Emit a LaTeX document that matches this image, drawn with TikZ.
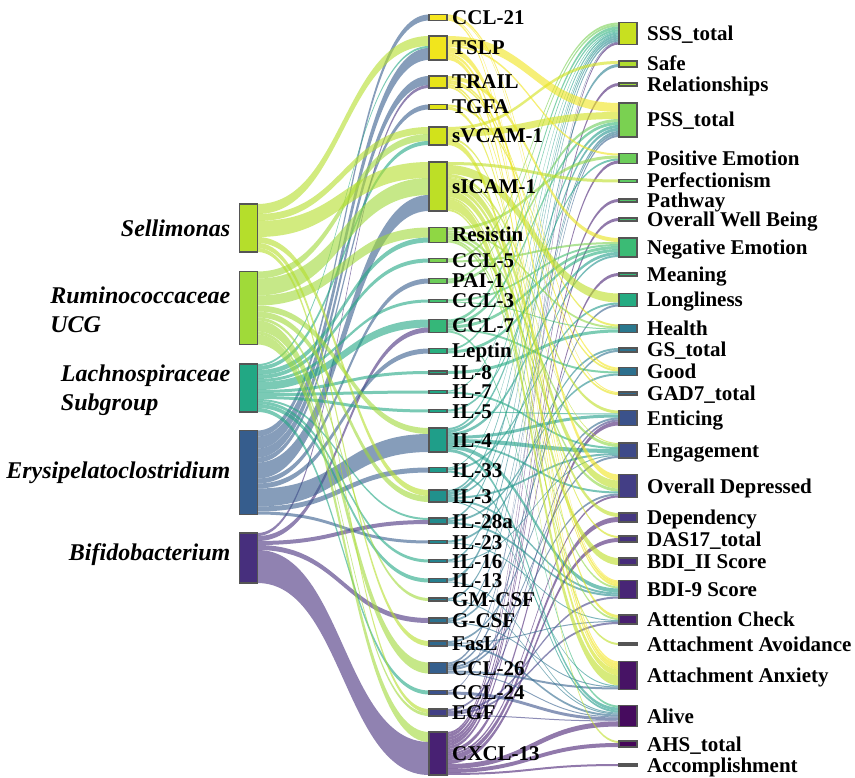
\documentclass[tikz,border=0pt]{standalone}
\usepackage{fontspec}
\setmainfont{Liberation Serif}
\usetikzlibrary{calc,backgrounds}
% left
\definecolor{csel}{HTML}{B5DE2B}
\definecolor{crum}{HTML}{A0DA39}
\definecolor{clach}{HTML}{22A884}
\definecolor{cery}{HTML}{365D8D}
\definecolor{cbif}{HTML}{472F7D}
% middle
\definecolor{cccl21}{HTML}{F6E620}
\definecolor{ctslp}{HTML}{F1E51D}
\definecolor{ctrail}{HTML}{E8E419}
\definecolor{ctgfa}{HTML}{E0E318}
\definecolor{csvcam}{HTML}{D2E21B}
\definecolor{csicam}{HTML}{BDDF26}
\definecolor{cresistin}{HTML}{8FD744}
\definecolor{cccl5}{HTML}{7AD151}
\definecolor{cpai1}{HTML}{6CCD5A}
\definecolor{cccl3}{HTML}{44BF70}
\definecolor{cccl7}{HTML}{35B779}
\definecolor{cleptin}{HTML}{29AF7F}
\definecolor{cil8}{HTML}{25AB82}
\definecolor{cil7}{HTML}{22A785}
\definecolor{cil5}{HTML}{20A386}
\definecolor{cil4}{HTML}{1F9E89}
\definecolor{cil33}{HTML}{1F998A}
\definecolor{cil3}{HTML}{21918C}
\definecolor{cil28a}{HTML}{228B8D}
\definecolor{cil23}{HTML}{24868E}
\definecolor{cil16}{HTML}{25828E}
\definecolor{cil13}{HTML}{277E8E}
\definecolor{cgmcsf}{HTML}{29798E}
\definecolor{cgcsf}{HTML}{2C718E}
\definecolor{cfasl}{HTML}{30698E}
\definecolor{cccl26}{HTML}{355F8D}
\definecolor{cccl24}{HTML}{3B528B}
\definecolor{cegf}{HTML}{424086}
\definecolor{ccxcl13}{HTML}{482173}
% right
\definecolor{csss}{HTML}{C8E020}
\definecolor{csafe}{HTML}{B0DD2F}
\definecolor{crel}{HTML}{9BD93C}
\definecolor{cpss}{HTML}{7AD151}
\definecolor{cposemo}{HTML}{6CCD5A}
\definecolor{cperf}{HTML}{5EC962}
\definecolor{cpathway}{HTML}{52C569}
\definecolor{cowb}{HTML}{44BF70}
\definecolor{cnegemo}{HTML}{3BBB75}
\definecolor{cmeaning}{HTML}{35B779}
\definecolor{clongl}{HTML}{25AB82}
\definecolor{chealth}{HTML}{2A788E}
\definecolor{cgs}{HTML}{2C728E}
\definecolor{cgood}{HTML}{2D708E}
\definecolor{cgad}{HTML}{30698E}
\definecolor{centicing}{HTML}{3B528B}
\definecolor{cengage}{HTML}{3E4A89}
\definecolor{coverdep}{HTML}{433E85}
\definecolor{cdepend}{HTML}{453781}
\definecolor{cdas}{HTML}{46327E}
\definecolor{cbdiii}{HTML}{472C7A}
\definecolor{cbdinine}{HTML}{482576}
\definecolor{cattn}{HTML}{481F70}
\definecolor{cattavoid}{HTML}{481A6C}
\definecolor{cattanx}{HTML}{471365}
\definecolor{calive}{HTML}{460B5E}
\definecolor{cahs}{HTML}{450559}
\definecolor{caccomp}{HTML}{440154}
\definecolor{nodeborder}{HTML}{555555}

\tikzset{
  sknode/.style={rectangle, draw=nodeborder, line width=1.7pt, inner sep=0pt, outer sep=0pt, minimum width=18pt},
  flowfill/.style={fill opacity=0.6},
  leftlabel/.style={font=\bfseries\itshape\fontsize{24}{29}\selectfont, anchor=east, align=left, inner sep=0pt},
  rlabel/.style={font=\bfseries\fontsize{21}{22}\selectfont, anchor=base west, inner sep=0pt},
}

\newcommand\sknd[4]{\node[sknode, fill=c#1, minimum height=#4pt] (#1) at (#2,#3) {};}
\newcommand\skml[2]{\node[rlabel] (#1-l) at ($(#1.east)+(5,7)$) {#2};}
\newcommand\skrl[2]{\node[rlabel] (#1-l) at ($(#1.east)+(10,7)$) {#2};}
\newcommand\skflow[3]{%
  \expandafter\ifx\csname skO#1\endcsname\relax\expandafter\xdef\csname skO#1\endcsname{0}\fi
  \expandafter\ifx\csname skI#2\endcsname\relax\expandafter\xdef\csname skI#2\endcsname{0}\fi
  \edef\skA{\csname skO#1\endcsname}%
  \edef\skB{\csname skI#2\endcsname}%
  \pgfmathsetmacro\skAe{\skA+#3}%
  \pgfmathsetmacro\skBe{\skB+#3}%
  \expandafter\xdef\csname skO#1\endcsname{\skAe}%
  \expandafter\xdef\csname skI#2\endcsname{\skBe}%
  \fill[flowfill, fill=c#1]
    ($(#1.north east)+(0,\skA)$) .. controls +(85,0) and +(-85,0) .. ($(#2.north west)+(0,\skB)$)
    -- ($(#2.north west)+(0,\skBe)$) .. controls +(-85,0) and +(85,0) .. ($(#1.north east)+(0,\skAe)$) -- cycle;%
}

\begin{document}
\begin{tikzpicture}[x=1pt,y=-1pt]
\useasboundingbox (0,0) rectangle (855,778);

% ---- left column
\sknd{sel}{248.5}{228}{48}
\sknd{rum}{248.5}{308}{73}
\sknd{lach}{248.5}{388}{48}
\sknd{ery}{248.5}{472.5}{84}
\sknd{bif}{248.5}{558}{50}
\node[leftlabel] (sel-l) at ($(sel.west)+(-9,0)$) {Sellimonas};
\node[leftlabel] (rum-l) at ($(rum.west)+(-9,2)$) {Ruminococcaceae\\UCG};
\node[leftlabel] (lach-l) at ($(lach.west)+(-9,2)$) {Lachnospiraceae\\ Subgroup};
\node[leftlabel] (ery-l) at ($(ery.west)+(-9,0)$) {Erysipelatoclostridium};
\node[leftlabel] (bif-l) at ($(bif.west)+(-9,-3)$) {Bifidobacterium};

% ---- middle column
\sknd{ccl21}{438}{17.5}{6}
\sknd{tslp}{438}{48}{24}
\sknd{trail}{438}{82}{12}
\sknd{tgfa}{438}{107}{5}
\sknd{svcam}{438}{136}{18}
\sknd{sicam}{438}{186.5}{49}
\sknd{resistin}{438}{235}{15}
\sknd{ccl5}{438}{260.5}{4}
\sknd{pai1}{438}{281}{5}
\sknd{ccl3}{438}{301}{3}
\sknd{ccl7}{438}{326}{13}
\sknd{leptin}{438}{351}{5}
\sknd{il8}{438}{372.5}{3}
\sknd{il7}{438}{392}{3}
\sknd{il5}{438}{411}{3}
\sknd{il4}{438}{440}{24}
\sknd{il33}{438}{470}{5}
\sknd{il3}{438}{496}{12}
\sknd{il28a}{438}{521}{6}
\sknd{il23}{438}{542}{3}
\sknd{il16}{438}{561}{3}
\sknd{il13}{438}{580.5}{4}
\sknd{gmcsf}{438}{599.5}{3}
\sknd{gcsf}{438}{620.5}{5}
\sknd{fasl}{438}{643.5}{5}
\sknd{ccl26}{438}{668}{11}
\sknd{ccl24}{438}{692.5}{4}
\sknd{egf}{438}{712.5}{7}
\sknd{cxcl13}{438}{753.5}{43}
\skml{ccl21}{CCL-21}
\skml{tslp}{TSLP}
\skml{trail}{TRAIL}
\skml{tgfa}{TGFA}
\skml{svcam}{sVCAM-1}
\skml{sicam}{sICAM-1}
\skml{resistin}{Resistin}
\skml{ccl5}{CCL-5}
\skml{pai1}{PAI-1}
\skml{ccl3}{CCL-3}
\skml{ccl7}{CCL-7}
\skml{leptin}{Leptin}
\skml{il8}{IL-8}
\skml{il7}{IL-7}
\skml{il5}{IL-5}
\skml{il4}{IL-4}
\skml{il33}{IL-33}
\skml{il3}{IL-3}
\skml{il28a}{IL-28a}
\skml{il23}{IL-23}
\skml{il16}{IL-16}
\skml{il13}{IL-13}
\skml{gmcsf}{GM-CSF}
\skml{gcsf}{G-CSF}
\skml{fasl}{FasL}
\skml{ccl26}{CCL-26}
\skml{ccl24}{CCL-24}
\skml{egf}{EGF}
\skml{cxcl13}{CXCL-13}

% ---- right column
\sknd{sss}{628}{33.5}{22}
\sknd{safe}{628}{64}{6}
\sknd{rel}{628}{84.5}{3}
\sknd{pss}{628}{120}{34}
\sknd{posemo}{628}{158.5}{10}
\sknd{perf}{628}{181}{3}
\sknd{pathway}{628}{200.5}{3}
\sknd{owb}{628}{219.5}{3}
\sknd{negemo}{628}{247.5}{19}
\sknd{meaning}{628}{274.5}{3}
\sknd{longl}{628}{300}{13}
\sknd{health}{628}{328.5}{8}
\sknd{gs}{628}{350}{4}
\sknd{good}{628}{371.5}{8}
\sknd{gad}{628}{393.5}{3}
\sknd{enticing}{628}{418}{15}
\sknd{engage}{628}{450.5}{15}
\sknd{overdep}{628}{486}{23}
\sknd{depend}{628}{517.5}{9}
\sknd{das}{628}{539}{6}
\sknd{bdiii}{628}{561.5}{7}
\sknd{bdinine}{628}{589.5}{18}
\sknd{attn}{628}{619.5}{9}
\sknd{attavoid}{628}{644}{2}
\sknd{attanx}{628}{675.5}{28}
\sknd{alive}{628}{716}{21}
\sknd{ahs}{628}{744}{6}
\sknd{accomp}{628}{765}{2}
\skrl{sss}{SSS\_total}
\skrl{safe}{Safe}
\skrl{rel}{Relationships}
\skrl{pss}{PSS\_total}
\skrl{posemo}{Positive Emotion}
\skrl{perf}{Perfectionism}
\skrl{pathway}{Pathway}
\skrl{owb}{Overall Well Being}
\skrl{negemo}{Negative Emotion}
\skrl{meaning}{Meaning}
\skrl{longl}{Longliness}
\skrl{health}{Health}
\skrl{gs}{GS\_total}
\skrl{good}{Good}
\skrl{gad}{GAD7\_total}
\skrl{enticing}{Enticing}
\skrl{engage}{Engagement}
\skrl{overdep}{Overall Depressed}
\skrl{depend}{Dependency}
\skrl{das}{DAS17\_total}
\skrl{bdiii}{BDI\_II Score}
\skrl{bdinine}{BDI-9 Score}
\skrl{attn}{Attention Check}
\skrl{attavoid}{Attachment Avoidance}
\skrl{attanx}{Attachment Anxiety}
\skrl{alive}{Alive}
\skrl{ahs}{AHS\_total}
\skrl{accomp}{Accomplishment}

\begin{pgfonlayer}{background}
\fill[white] (0,0) rectangle (855,778);
% ---- left -> middle
\skflow{ery}{ccl21}{6}
\skflow{sel}{tslp}{10}
\skflow{lach}{tslp}{2}
\skflow{ery}{tslp}{12}
\skflow{ery}{trail}{9}
\skflow{bif}{trail}{3}
\skflow{ery}{tgfa}{5}
\skflow{sel}{svcam}{7}
\skflow{rum}{svcam}{7}
\skflow{lach}{svcam}{4}
\skflow{sel}{sicam}{16}
\skflow{rum}{sicam}{17}
\skflow{ery}{sicam}{16}
\skflow{rum}{resistin}{10}
\skflow{lach}{resistin}{5}
\skflow{lach}{ccl5}{4}
\skflow{ery}{pai1}{5}
\skflow{lach}{ccl3}{3}
\skflow{lach}{ccl7}{8}
\skflow{bif}{ccl7}{5}
\skflow{ery}{leptin}{5}
\skflow{lach}{il8}{3}
\skflow{lach}{il7}{3}
\skflow{lach}{il5}{3}
\skflow{rum}{il4}{6}
\skflow{ery}{il4}{18}
\skflow{ery}{il33}{5}
\skflow{sel}{il3}{6}
\skflow{rum}{il3}{6}
\skflow{lach}{il28a}{2}
\skflow{bif}{il28a}{4}
\skflow{ery}{il23}{3}
\skflow{lach}{il16}{3}
\skflow{lach}{il13}{4}
\skflow{rum}{gmcsf}{3}
\skflow{bif}{gcsf}{5}
\skflow{sel}{fasl}{5}
\skflow{rum}{ccl26}{11}
\skflow{lach}{ccl24}{4}
\skflow{sel}{egf}{4}
\skflow{rum}{egf}{3}
\skflow{rum}{cxcl13}{10}
\skflow{bif}{cxcl13}{33}
% ---- middle -> right
\skflow{ccl5}{sss}{2}
\skflow{pai1}{sss}{2}
\skflow{ccl7}{sss}{3}
\skflow{leptin}{sss}{2}
\skflow{il7}{sss}{1}
\skflow{il4}{sss}{2}
\skflow{il33}{sss}{1}
\skflow{il3}{sss}{2}
\skflow{il28a}{sss}{2}
\skflow{il16}{sss}{2}
\skflow{ccl24}{sss}{1}
\skflow{cxcl13}{sss}{2}
\skflow{svcam}{safe}{3}
\skflow{il13}{safe}{3}
\skflow{cxcl13}{rel}{3}
\skflow{tslp}{pss}{9}
\skflow{svcam}{pss}{7}
\skflow{pai1}{pss}{3}
\skflow{ccl7}{pss}{3}
\skflow{il4}{pss}{3}
\skflow{il3}{pss}{3}
\skflow{gmcsf}{pss}{2}
\skflow{gcsf}{pss}{2}
\skflow{ccl26}{pss}{2}
\skflow{tslp}{posemo}{2}
\skflow{resistin}{posemo}{3}
\skflow{il5}{posemo}{2}
\skflow{cxcl13}{posemo}{3}
\skflow{sicam}{perf}{3}
\skflow{cxcl13}{pathway}{3}
\skflow{cxcl13}{owb}{3}
\skflow{trail}{negemo}{4}
\skflow{ccl5}{negemo}{2}
\skflow{ccl3}{negemo}{2}
\skflow{ccl7}{negemo}{3}
\skflow{leptin}{negemo}{3}
\skflow{il4}{negemo}{3}
\skflow{il3}{negemo}{2}
\skflow{cxcl13}{meaning}{3}
\skflow{sicam}{longl}{9}
\skflow{il33}{longl}{2}
\skflow{ccl26}{longl}{2}
\skflow{tgfa}{health}{2}
\skflow{resistin}{health}{2}
\skflow{ccl3}{health}{1}
\skflow{il8}{health}{3}
\skflow{il23}{gs}{2}
\skflow{gcsf}{gs}{2}
\skflow{ccl21}{good}{2}
\skflow{trail}{good}{2}
\skflow{ccl7}{good}{2}
\skflow{il28a}{good}{2}
\skflow{ccl21}{gad}{1}
\skflow{trail}{gad}{2}
\skflow{sicam}{enticing}{3}
\skflow{il5}{enticing}{1}
\skflow{il4}{enticing}{3}
\skflow{fasl}{enticing}{2}
\skflow{egf}{enticing}{2}
\skflow{cxcl13}{enticing}{4}
\skflow{sicam}{engage}{1}
\skflow{resistin}{engage}{3}
\skflow{il7}{engage}{2}
\skflow{il4}{engage}{4}
\skflow{il3}{engage}{2}
\skflow{il16}{engage}{1}
\skflow{ccl26}{engage}{2}
\skflow{tslp}{overdep}{6}
\skflow{sicam}{overdep}{8}
\skflow{resistin}{overdep}{3}
\skflow{il4}{overdep}{2}
\skflow{ccl26}{overdep}{2}
\skflow{cxcl13}{overdep}{2}
\skflow{sicam}{depend}{4}
\skflow{cxcl13}{depend}{5}
\skflow{svcam}{das}{2}
\skflow{cxcl13}{das}{4}
\skflow{sicam}{bdiii}{7}
\skflow{ccl21}{bdinine}{1}
\skflow{tslp}{bdinine}{3}
\skflow{trail}{bdinine}{2}
\skflow{resistin}{bdinine}{2}
\skflow{il4}{bdinine}{4}
\skflow{il3}{bdinine}{2}
\skflow{il28a}{bdinine}{2}
\skflow{egf}{bdinine}{2}
\skflow{tgfa}{attn}{3}
\skflow{resistin}{attn}{2}
\skflow{il23}{attn}{1}
\skflow{fasl}{attn}{1}
\skflow{egf}{attn}{2}
\skflow{sicam}{attavoid}{2}
\skflow{ccl21}{attanx}{2}
\skflow{tslp}{attanx}{4}
\skflow{trail}{attanx}{2}
\skflow{svcam}{attanx}{6}
\skflow{sicam}{attanx}{10}
\skflow{il3}{attanx}{1}
\skflow{gcsf}{attanx}{1}
\skflow{ccl26}{attanx}{2}
\skflow{ccl7}{alive}{2}
\skflow{il4}{alive}{3}
\skflow{il33}{alive}{2}
\skflow{il13}{alive}{1}
\skflow{gmcsf}{alive}{1}
\skflow{fasl}{alive}{2}
\skflow{ccl26}{alive}{1}
\skflow{ccl24}{alive}{3}
\skflow{egf}{alive}{1}
\skflow{cxcl13}{alive}{5}
\skflow{sicam}{ahs}{2}
\skflow{cxcl13}{ahs}{4}
\skflow{cxcl13}{accomp}{2}
\end{pgfonlayer}
\end{tikzpicture}
\end{document}
